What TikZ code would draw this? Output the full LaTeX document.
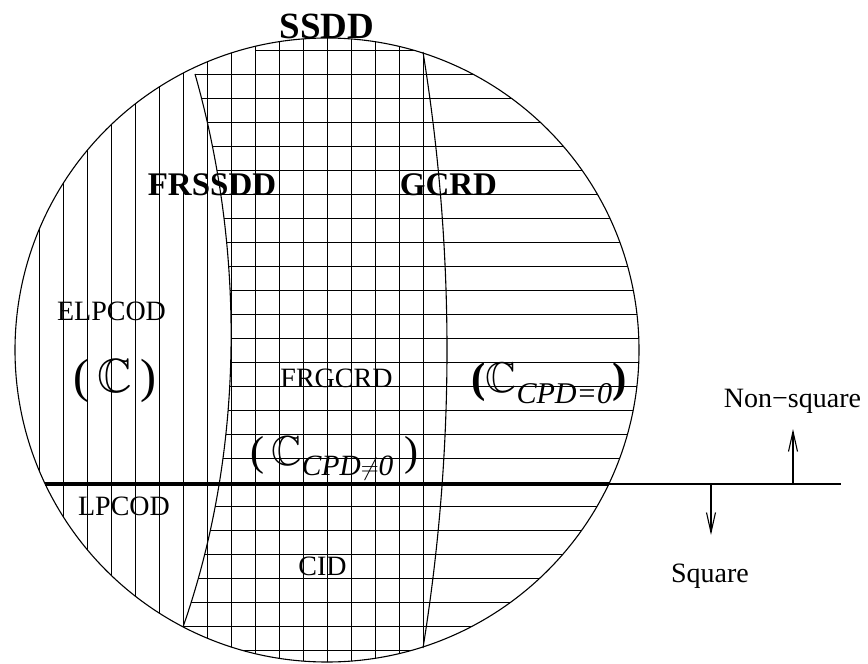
\documentclass[tikz,border=0pt]{standalone}
\usepackage{amsmath,amssymb}
\usepackage{fontspec}
\setmainfont{Liberation Serif}
\usetikzlibrary{arrows.meta}
\begin{document}
\begin{tikzpicture}[x=1pt,y=-1pt,line width=1.1pt,
    lbl/.style={inner sep=0pt,anchor=base,font=\fontsize{28}{28}\selectfont},
    blbl/.style={inner sep=0pt,anchor=base,font=\fontsize{33}{33}\bfseries\selectfont},
    stick/.style={-{Straight Barb[length=20pt,width=9pt]}}]
    \useasboundingbox (0,0) rectangle (868,664);
    % Disc of all designs
    \coordinate (ctr) at (327,350);
    % Vertical hatching, left of the GCRD boundary
    \begin{scope}
        \clip (ctr) circle (312pt);
        \clip (0,0) -- (423,0) -- (423,52) .. controls (455,251) and (455,449) .. (423,648) -- (423,664) -- (0,664) -- cycle;
        \foreach \k in {0,...,16}
            \draw (39.3+24*\k,30) -- (39.3+24*\k,670);
    \end{scope}
    % Horizontal hatching, right of the FRSSDD boundary
    \begin{scope}
        \clip (ctr) circle (312pt);
        \clip (195,74) .. controls (245,250) and (245,450) .. (183,627) -- (183,700) -- (700,700) -- (700,0) -- (255,0) -- (255,62) -- cycle;
        \foreach \k in {0,...,25}
            \draw (150,50.5+24*\k) -- (700,50.5+24*\k);
    \end{scope}
    % Boundaries
    \draw (ctr) circle (312pt);
    \draw (195,74) .. controls (245,250) and (245,450) .. (183,627);
    \draw (423,52) .. controls (455,251) and (455,449) .. (423,648);
    % Square / non-square cut
    \coordinate (cutL) at (45.2,484);
    \coordinate (cutR) at (608.8,484);
    \coordinate (cutEnd) at (841,484);
    \draw [line width=4pt] (cutL) -- (cutR);
    \draw (cutR) -- (cutEnd);
    \coordinate (upfoot) at (793,484);
    \coordinate (uptip) at (793,429);
    \coordinate (downfoot) at (711,485);
    \coordinate (downtip) at (711,535);
    \draw [stick] (upfoot) -- (uptip);
    \draw [stick] (downfoot) -- (downtip);
    % Labels
    \node [blbl,font=\fontsize{37}{37}\bfseries\selectfont] (ssdd) at (327,38) {SSDD};
    \node [blbl] (frssdd) at (212,195) {FRSSDD};
    \node [blbl] (gcrd) at (448.5,195) {GCRD};
    \node [lbl] (elpcod) at (111.5,320) {ELPCOD};
    \node [lbl,font=\fontsize{48}{48}\selectfont] (cAll) at (115,392) {(\,$\mathbb{C}$\,)};
    \node [lbl] (frgcrd) at (336.5,387) {FRGCRD};
    \node [lbl,font=\fontsize{42}{42}\selectfont] (cNonzero) at (334.5,465) {(\,$\mathbb{C}_{\text{\itshape CPD$\neq$0}}$\ )};
    \node [lbl,font=\fontsize{43}{43}\bfseries\selectfont] (cZero) at (549,392) {($\mathbb{C}_{\text{\mdseries\itshape CPD=0}}$)};
    \node [lbl] (lpcod) at (124,515) {LPCOD};
    \node [lbl] (cid) at (322.5,575) {CID};
    \node [lbl] (nonsq) at (792.5,407) {Non−square};
    \node [lbl] (sq) at (710,582) {Square};
\end{tikzpicture}
\end{document}
